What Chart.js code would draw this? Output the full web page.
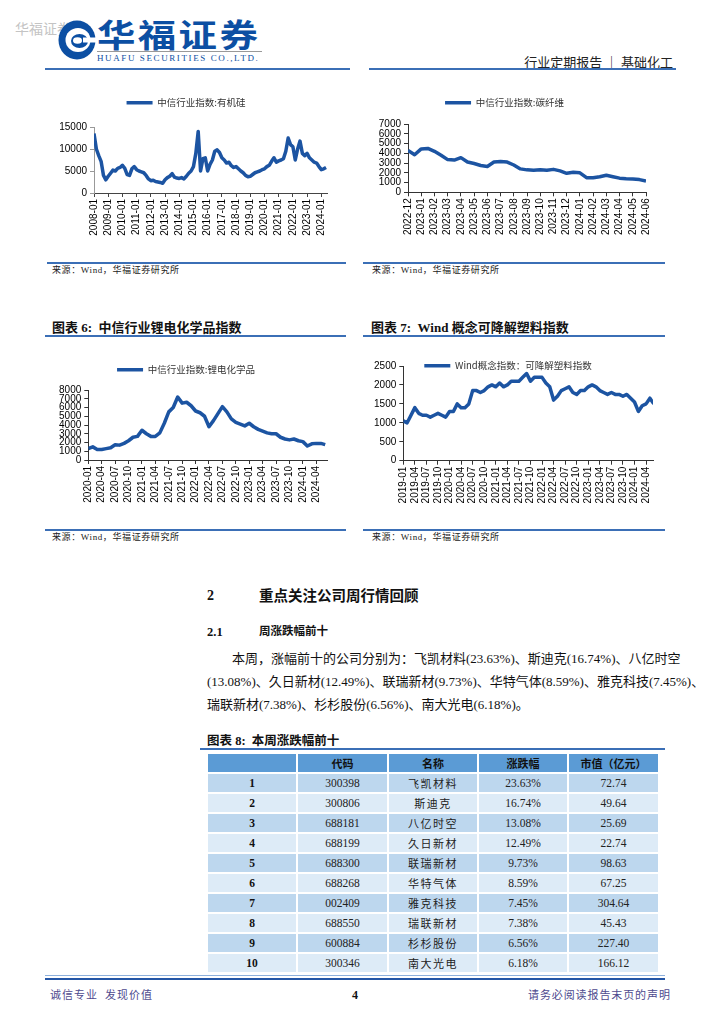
<!DOCTYPE html>
<html><head><meta charset="utf-8">
<script src="https://cdn.jsdelivr.net/npm/chart.js@4.4.1/dist/chart.umd.min.js"></script>
<style>
body{margin:0;background:#fff;width:724px;height:1024px;position:relative;overflow:hidden;font-family:'Liberation Serif','Noto Sans CJK SC',serif;color:#111;}
.a{position:absolute;white-space:nowrap;line-height:1;}
.cjk{font-family:'Noto Sans CJK SC',sans-serif;}
.hl{position:absolute;height:1.5px;background:#3b6fb6;}
.src{position:absolute;font-size:9px;font-family:'Liberation Serif','Noto Sans CJK SC',serif;color:#222;line-height:1;letter-spacing:0.6px;}
.ttl{position:absolute;font-size:13px;font-weight:bold;line-height:1;white-space:nowrap;}
canvas{position:absolute;}
.para{position:absolute;font-size:13px;line-height:1;white-space:nowrap;text-align:justify;text-align-last:justify;}
.cell{position:absolute;display:flex;align-items:center;justify-content:center;font-size:11.5px;color:#222;}
</style></head><body>

<!-- header -->
<div class="a cjk" style="left:15px;top:21px;font-size:14px;color:#c4c4c4;">华福证券</div>
<svg class="a" style="left:58px;top:20px;" width="38" height="40" viewBox="0 0 38 40">
  <ellipse cx="19" cy="20" rx="18.5" ry="19.5" fill="#0c4fa3"/>
  <ellipse cx="20" cy="20" rx="12.5" ry="12" fill="#fff"/>
  <ellipse cx="21.5" cy="21" rx="8.5" ry="7" fill="#0c4fa3"/>
  <ellipse cx="19.5" cy="20.5" rx="4.5" ry="3.2" fill="#fff"/>
  <rect x="25" y="17.5" width="13" height="5" fill="#fff"/>
</svg>
<div class="a cjk" style="left:97px;top:17px;font-size:32px;font-weight:bold;color:#0c4fa3;letter-spacing:2px;transform:scaleX(1.2);transform-origin:0 0;">华福证券</div>
<div class="a" style="left:97px;top:51px;width:165px;height:1px;background:#999;"></div>
<div class="a" style="left:97px;top:54px;font-size:9px;color:#0c4fa3;letter-spacing:1.6px;font-family:'Liberation Serif';">HUAFU SECURITIES CO.,LTD.</div>
<div class="a cjk" style="right:51px;top:55px;font-size:13px;color:#222;">行业定期报告 ｜ 基础化工</div>
<div class="hl" style="left:45px;top:68px;width:305px;height:2px;"></div>
<div class="hl" style="left:369px;top:68px;width:307px;height:2px;"></div>

<!-- charts row 1 -->
<canvas id="c1" width="300" height="160" style="left:45px;top:88px;"></canvas>
<canvas id="c2" width="302" height="160" style="left:363px;top:88px;"></canvas>
<div class="hl" style="left:47px;top:262px;width:299px;"></div>
<div class="hl" style="left:363px;top:262px;width:302px;"></div>
<div class="src" style="left:52px;top:266px;">来源：Wind，华福证券研究所</div>
<div class="src" style="left:372px;top:266px;">来源：Wind，华福证券研究所</div>

<!-- charts row 2 -->
<div class="ttl" style="left:52px;top:321px;">图表 6:&nbsp; 中信行业锂电化学品指数</div>
<div class="ttl" style="left:371px;top:321px;">图表 7:&nbsp; Wind 概念可降解塑料指数</div>
<div class="hl" style="left:45px;top:335px;width:301px;"></div>
<div class="hl" style="left:363px;top:335px;width:302px;"></div>
<canvas id="c3" width="300" height="165" style="left:45px;top:355px;"></canvas>
<canvas id="c4" width="302" height="170" style="left:363px;top:351px;"></canvas>
<div class="hl" style="left:45px;top:529px;width:301px;"></div>
<div class="hl" style="left:363px;top:529px;width:302px;"></div>
<div class="src" style="left:52px;top:533px;">来源：Wind，华福证券研究所</div>
<div class="src" style="left:372px;top:533px;">来源：Wind，华福证券研究所</div>

<!-- section text -->
<div class="a" style="left:207px;top:589px;font-size:14px;font-weight:bold;">2</div>
<div class="a cjk" style="left:259px;top:588px;font-size:14.5px;font-weight:bold;">重点关注公司周行情回顾</div>
<div class="a" style="left:207px;top:626px;font-size:12.5px;font-weight:bold;">2.1</div>
<div class="a cjk" style="left:259px;top:625px;font-size:11.5px;font-weight:bold;">周涨跌幅前十</div>
<div class="para" style="left:232px;top:652px;width:438px;">本周，涨幅前十的公司分别为：飞凯材料(23.63%)、斯迪克(16.74%)、八亿时空</div>
<div class="para" style="left:207px;top:675px;width:463px;">(13.08%)、久日新材(12.49%)、联瑞新材(9.73%)、华特气体(8.59%)、雅克科技(7.45%)、</div>
<div class="a" style="left:207px;top:698px;font-size:13px;">瑞联新材(7.38%)、杉杉股份(6.56%)、南大光电(6.18%)。</div>

<div class="ttl" style="left:207px;top:735px;font-size:12.5px;">图表 8:&nbsp; 本周涨跌幅前十</div>
<div class="hl" style="left:200px;top:748px;width:465px;"></div>
<div id="tbl"></div>

<!-- footer -->
<div class="a" style="left:45px;top:975px;width:620px;height:1px;background:#8db0dc;"></div>
<div class="a" style="left:45px;top:978px;width:620px;height:2px;background:#2456a6;"></div>
<div class="a cjk" style="left:50px;top:989px;font-size:11px;color:#4e4a8e;letter-spacing:1px;">诚信专业&nbsp;&nbsp;发现价值</div>
<div class="a" style="left:352px;top:989px;font-size:12px;font-weight:bold;">4</div>
<div class="a cjk" style="left:528px;top:989px;font-size:11px;color:#4e4a8e;letter-spacing:0.9px;">请务必阅读报告末页的声明</div>

<script>
// ---------- data ----------
const c1TickLabels = ['2008-01','2009-01','2010-01','2011-01','2012-01','2013-01','2014-01','2015-01','2016-01','2017-01','2018-01','2019-01','2020-01','2021-01','2022-01','2023-01','2024-01'];
// bi-monthly readings (6 per year)
const c1Values = [
 13500,10000,8500,7200,4000,3000,
 3800,4500,5200,5000,5600,5800,
 6300,5600,4200,4000,5500,6000,
 5300,5000,4800,4600,4000,3200,
 2800,2900,2600,2500,2400,2200,
 3000,3500,3800,4400,3600,3400,
 3300,3500,3200,3800,4500,5000,
 6000,9000,14000,5000,7800,8000,
 5000,6500,7500,9500,9800,9200,
 8000,7500,6800,7000,6200,5800,
 6000,5500,5000,4600,4000,3700,
 3800,4200,4600,4800,5000,5300,
 5500,6000,6300,7200,8000,7000,
 7300,7500,7800,9500,12500,11000,
 10500,7500,10000,11800,9000,8500,
 9000,8000,7500,7000,6800,6000,
 5300,5500,5800];
const c1Label = '中信行业指数:有机硅';

const c2TickLabels = ['2022-12','2023-01','2023-02','2023-03','2023-04','2023-05','2023-06','2023-07','2023-08','2023-09','2023-10','2023-11','2023-12','2024-01','2024-02','2024-03','2024-04','2024-05','2024-06'];
// half-monthly readings (2 per month)
const c2Values = [4300,3850,4450,4500,4200,3800,3350,3300,3550,3100,2950,2750,2650,3100,3150,3100,2800,2400,2300,2250,2300,2250,2350,2200,1950,2050,2000,1500,1500,1600,1750,1600,1450,1400,1370,1300,1150];
const c2Label = '中信行业指数:碳纤维';

const c3TickLabels = ['2020-01','2020-04','2020-07','2020-10','2021-01','2021-04','2021-07','2021-10','2022-01','2022-04','2022-07','2022-10','2023-01','2023-04','2023-07','2023-10','2024-01','2024-04'];
// monthly readings (3 per quarter)
const c3Values = [1300,1500,1200,1200,1300,1400,1750,1700,1900,2200,2600,2700,3400,3000,2700,2700,3100,4200,5500,6000,7200,6500,6600,6200,5600,5400,5000,3800,4500,5300,6100,5500,4700,4300,4100,3900,4200,3800,3500,3300,3100,3000,3000,2600,2400,2300,2400,2200,2100,1600,1850,1900,1900,1750];
const c3Label = '中信行业指数:锂电化学品';

const c4TickLabels = ['2019-01','2019-04','2019-07','2019-10','2020-01','2020-04','2020-07','2020-10','2021-01','2021-04','2021-07','2021-10','2022-01','2022-04','2022-07','2022-10','2023-01','2023-04','2023-07','2023-10','2024-01','2024-04'];
// monthly readings (3 per quarter)
const c4Values = [1050,1000,1200,1400,1250,1200,1200,1150,1200,1250,1200,1150,1300,1300,1500,1400,1400,1500,1850,1850,1800,1850,1950,2000,1950,2050,1950,2000,2100,2100,2100,2200,2300,2100,2200,2200,2200,2050,1950,1600,1700,1850,1900,1950,1800,1750,1850,1850,1950,2000,1950,1850,1800,1750,1800,1750,1750,1700,1750,1650,1550,1300,1450,1500,1650,1500];
const c4Label = 'Wind概念指数：可降解塑料指数';

// table data
const tblHeaders = ['', '代码', '名称', '涨跌幅', '市值（亿元）'];
const tblRanks = ['1','2','3','4','5','6','7','8','9','10'];
const tblCodes = ['300398','300806','688181','688199','688300','688268','002409','688550','600884','300346'];
const tblNames = ['飞凯材料','斯迪克','八亿时空','久日新材','联瑞新材','华特气体','雅克科技','瑞联新材','杉杉股份','南大光电'];
const tblChanges = ['23.63%','16.74%','13.08%','12.49%','9.73%','8.59%','7.45%','7.38%','6.56%','6.18%'];
const tblCaps = ['72.74','49.64','25.69','22.74','98.63','67.25','304.64','45.43','227.40','166.12'];

// ---------- table ----------
(function(){
  const cols = [207,297,388,478,568,659];
  const tbl = document.getElementById('tbl');
  const top0 = 753, hh = 19, rh = 20;
  function cell(x0,x1,y0,h,txt,bg,style){
    const d = document.createElement('div');
    d.className = 'cell';
    d.style.left = (x0+1)+'px'; d.style.top = (y0+1)+'px';
    d.style.width = (x1-x0-2)+'px'; d.style.height = (h-2)+'px';
    d.style.background = bg;
    d.style.cssText += style||'';
    d.textContent = txt;
    tbl.appendChild(d);
  }
  tblHeaders.forEach((t,i)=>cell(cols[i],cols[i+1],top0,hh+1,t,'#5b9bd5',"font-family:'Noto Sans CJK SC';font-weight:bold;font-size:11px;color:#111;"));
  for(let r=0;r<tblRanks.length;r++){
    const y = top0+hh+1+r*rh;
    const bg = r%2===0 ? '#bdd7ee' : '#ddebf7';
    const row = [tblRanks[r],tblCodes[r],tblNames[r],tblChanges[r],tblCaps[r]];
    row.forEach((t,i)=>cell(cols[i],cols[i+1],y,rh,t,bg, i===0?'font-weight:bold;color:#111;':(i===2?"font-family:'Noto Sans CJK SC';font-size:11px;letter-spacing:1.5px;":'')));
  }
})();

// ---------- charts ----------
const LINE = '#1c54a2';
Chart.defaults.font.family = "'Liberation Sans', Arial, sans-serif";

function makeChart(id, cfg){
  const {tickLabels, values, k, xMax, yMax, yStep, label, yWidth, xHeight, padRight, legendExtra, axisColor, yAxisColor} = cfg;
  const pts = values.map((v,i)=>({x:i/k, y:v}));
  return new Chart(document.getElementById(id), {
    type:'line',
    data:{datasets:[{label:label, data:pts, borderColor:LINE, backgroundColor:LINE, borderWidth:3.5, pointRadius:0, pointStyle:'line', tension:0, borderJoinStyle:'round'}]},
    options:{
      responsive:false, animation:false, events:[],
      layout:{padding:{left:0,right:padRight,top:0,bottom:0}},
      plugins:{
        legend:{display:true, position:'top', labels:{usePointStyle:true, pointStyleWidth:26, padding:10, color:'#333', font:{family:"'Noto Sans CJK SC', sans-serif", size:9.5}}},
        tooltip:{enabled:false}
      },
      scales:{
        x:{type:'linear', min:0, max:xMax,
           afterBuildTicks: ax => { ax.ticks = tickLabels.map((_,i)=>({value:i})); },
           afterFit: ax => { ax.height = xHeight; },
           ticks:{autoSkip:false, maxRotation:90, minRotation:90, padding:2, color:'#000', font:{size:10}, callback: v => tickLabels[v]},
           grid:{drawOnChartArea:false, drawTicks:true, tickLength:4, color:axisColor},
           border:{display:true, color:axisColor, width:1}},
        y:{type:'linear', min:0, max:yMax,
           afterFit: ax => { ax.width = yWidth; },
           ticks:{stepSize:yStep, autoSkip:false, padding:3, color:'#000', font:{size:10}, callback: v => String(v)},
           grid:{drawOnChartArea:false, drawTicks:true, tickLength:4, color:yAxisColor||axisColor},
           border:{display:true, color:yAxisColor||axisColor, width:1}}
      }
    },
    plugins:[{id:'legendGap', afterInit(chart){
      const l = chart.legend; const f = l.fit;
      l.fit = function(){ f.call(this); this.height += legendExtra; };
      l.draw = function(){ if (this.options.display) this._draw(); };
    }}]
  });
}

makeChart('c1', {tickLabels:c1TickLabels, values:c1Values, k:6, xMax:16.4, yMax:15000, yStep:5000, label:c1Label, yWidth:49, xHeight:55, padRight:18, legendExtra:9.5, axisColor:'#444', yAxisColor:'#999'});
makeChart('c2', {tickLabels:c2TickLabels, values:c2Values, k:2, xMax:18, yMax:7000, yStep:1000, label:c2Label, yWidth:45, xHeight:55.7, padRight:19, legendExtra:6.5, axisColor:'#333'});
makeChart('c3', {tickLabels:c3TickLabels, values:c3Values, k:3, xMax:17.8, yMax:8000, yStep:1000, label:c3Label, yWidth:43.3, xHeight:60, padRight:18, legendExtra:5.5, axisColor:'#333'});
makeChart('c4', {tickLabels:c4TickLabels, values:c4Values, k:3, xMax:21.6, yMax:2500, yStep:500, label:c4Label, yWidth:40.3, xHeight:60.3, padRight:12, legendExtra:-14.5, axisColor:'#333'});
</script>
</body></html>
